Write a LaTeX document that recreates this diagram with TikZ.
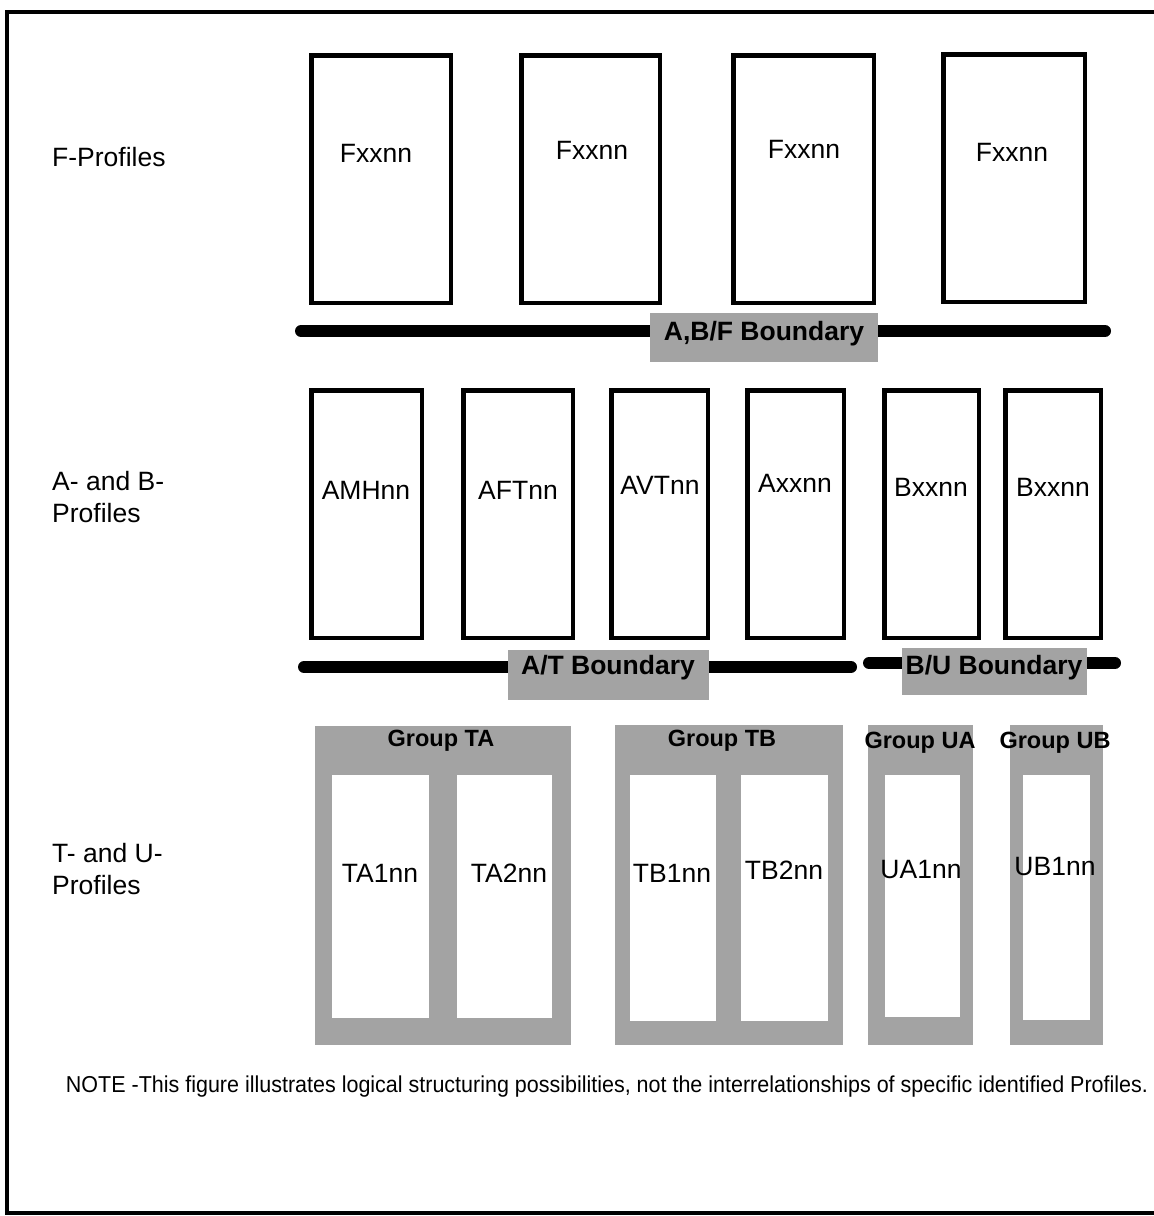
\documentclass[tikz,border=0pt]{standalone}
\usepackage{fontspec}
\setmainfont{Liberation Sans}
\usetikzlibrary{fit}
\definecolor{stip}{gray}{0.64}
\begin{document}
\begin{tikzpicture}[x=1pt,y=-1pt,
  profbox/.style={draw, line width=4.5pt, inner sep=0pt, outer sep=0pt, rectangle},
  grpbox/.style={fill=stip, draw=none, inner sep=0pt, outer sep=0pt, rectangle},
  whitebox/.style={fill=white, draw=none, inner sep=0pt, outer sep=0pt, rectangle},
  lbl/.style={font=\fontsize{26.5}{30}\selectfont, inner sep=0pt},
  sidelbl/.style={font=\fontsize{26.5}{32}\selectfont, anchor=west, align=left, inner sep=0pt},
  bndlbl/.style={font=\bfseries\fontsize{26.5}{28}\selectfont, inner sep=0pt},
  grplbl/.style={font=\bfseries\fontsize{23.5}{26}\selectfont, inner sep=0pt},
  bline/.style={line width=12pt, line cap=round}
]
\useasboundingbox (0,0) rectangle (1154,1216);
% frame
\draw[line width=4pt] (1162,12) -- (7,12) -- (7,1213) -- (1162,1213);

% side labels
\node[sidelbl] (lf) at (52,157) {F-Profiles};
\node[sidelbl] (lab) at (52,497) {A- and B-\\Profiles};
\node[sidelbl] (ltu) at (52,869) {T- and U-\\Profiles};

% F profiles
\node[profbox, fit={(311.25,55.25) (450.75,302.75)}] (f1) {};
\node[profbox, fit={(521.25,55.25) (659.75,302.75)}] (f2) {};
\node[profbox, fit={(733.25,55.25) (873.75,302.75)}] (f3) {};
\node[profbox, fit={(943.25,54.25) (1084.75,301.75)}] (f4) {};
\node[lbl] (tf1) at (376,153) {Fxxnn};
\node[lbl] (tf2) at (592,150) {Fxxnn};
\node[lbl] (tf3) at (804,149) {Fxxnn};
\node[lbl] (tf4) at (1012,152) {Fxxnn};

% A,B/F boundary
\coordinate (abfL) at (301,331);
\coordinate (abfR) at (1105,331);
\draw[bline] (abfL) -- (abfR);
\node[grpbox, fit={(650,313) (878,362)}] (abf) {};
\node[bndlbl] (tabf) at (764,334) {A,B/F Boundary};

% A and B profiles
\node[profbox, fit={(311.25,390.25) (421.75,637.75)}] (amh) {};
\node[profbox, fit={(463.25,390.25) (572.75,637.75)}] (aft) {};
\node[profbox, fit={(611.25,390.25) (707.75,637.75)}] (avt) {};
\node[profbox, fit={(747.25,390.25) (843.75,637.75)}] (axx) {};
\node[profbox, fit={(884.25,390.25) (978.75,637.75)}] (bx1) {};
\node[profbox, fit={(1005.25,390.25) (1100.75,637.75)}] (bx2) {};
\node[lbl] (tamh) at (366,490) {AMHnn};
\node[lbl] (taft) at (518,490) {AFTnn};
\node[lbl] (tavt) at (660,485) {AVTnn};
\node[lbl] (taxx) at (795,483) {Axxnn};
\node[lbl] (tbx1) at (931,487) {Bxxnn};
\node[lbl] (tbx2) at (1053,487) {Bxxnn};

% A/T and B/U boundaries
\coordinate (atL) at (304,667);
\coordinate (atR) at (851,667);
\draw[bline] (atL) -- (atR);
\node[grpbox, fit={(508,650) (709,700)}] (at) {};
\node[bndlbl] (tat) at (608,668) {A/T Boundary};
\coordinate (buL) at (869,663);
\coordinate (buR) at (1115,663);
\draw[bline] (buL) -- (buR);
\node[grpbox, fit={(902,648) (1087,695)}] (bu) {};
\node[bndlbl] (tbu) at (994,668) {B/U Boundary};

% T and U groups
\node[grpbox, fit={(315,726) (571,1045)}] (gta) {};
\node[grpbox, fit={(615,725) (843,1045)}] (gtb) {};
\node[grpbox, fit={(868,725) (973,1045)}] (gua) {};
\node[grpbox, fit={(1010,725) (1103,1045)}] (gub) {};
\node[whitebox, fit={(332,775) (429,1018)}] (ta1) {};
\node[whitebox, fit={(457,775) (552,1018)}] (ta2) {};
\node[whitebox, fit={(630,775) (716,1021)}] (tb1) {};
\node[whitebox, fit={(741,775) (828,1021)}] (tb2) {};
\node[whitebox, fit={(885,775) (960,1017)}] (ua1) {};
\node[whitebox, fit={(1023,775) (1090,1020)}] (ub1) {};
\node[grplbl] (tgta) at (441,741) {Group TA};
\node[grplbl] (tgtb) at (722,741) {Group TB};
\node[grplbl] (tgua) at (920,743) {Group UA};
\node[grplbl] (tgub) at (1055,743) {Group UB};
\node[lbl] (tta1) at (380,873) {TA1nn};
\node[lbl] (tta2) at (509,873) {TA2nn};
\node[lbl] (ttb1) at (672,873) {TB1nn};
\node[lbl] (ttb2) at (784,870) {TB2nn};
\node[lbl] (tua1) at (921,870) {UA1nn};
\node[lbl] (tub1) at (1055,867) {UB1nn};

% note
\node[inner sep=0pt] (note) at (607,1087) {\resizebox{1082pt}{\height}{\fontsize{23}{26}\selectfont NOTE -This figure illustrates logical structuring possibilities, not the interrelationships of specific identified Profiles.}};
\end{tikzpicture}
\end{document}
